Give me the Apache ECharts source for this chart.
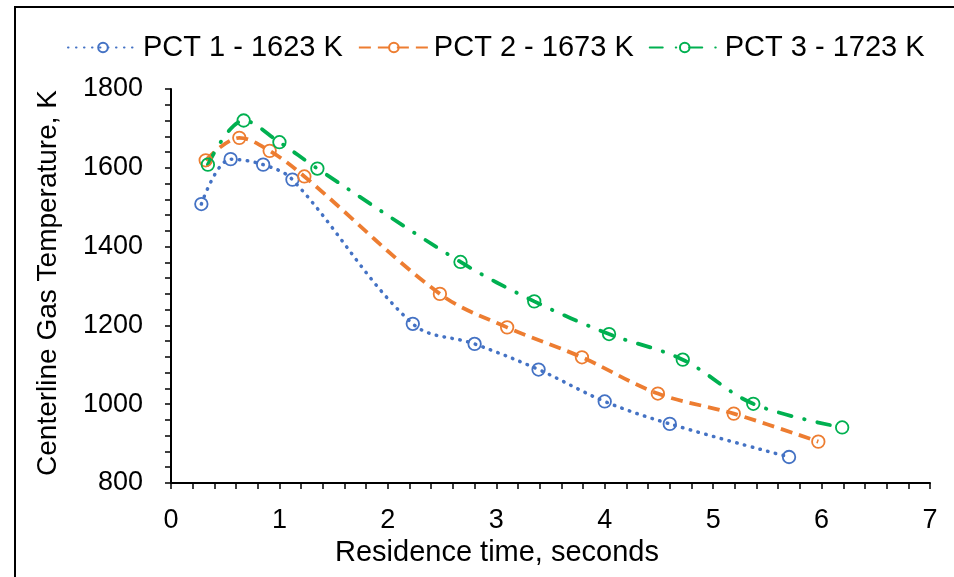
<!DOCTYPE html>
<html>
<head>
<meta charset="utf-8">
<script src="https://cdn.jsdelivr.net/npm/echarts@6/dist/echarts.min.js"></script>
<style>
html,body{margin:0;padding:0;background:#fff;}
#chart{width:954px;height:577px;}
</style>
</head>
<body>
<div id="chart"></div>
<script>
// Data
var seriesNames = ['PCT 1 - 1623 K', 'PCT 2 - 1673 K', 'PCT 3 - 1723 K'];
var pct1 = [[0.28,1508],[0.55,1622],[0.85,1608],[1.12,1570],[2.23,1204],[2.80,1153],[3.39,1088],[4.00,1007],[4.60,950],[5.70,866]];
var pct2 = [[0.32,1619],[0.63,1676],[0.91,1643],[1.23,1578],[2.48,1280],[3.10,1195],[3.79,1119],[4.49,1027],[5.19,976],[5.97,905]];
var pct3 = [[0.34,1608],[0.67,1720],[1.00,1665],[1.35,1598],[2.67,1361],[3.35,1261],[4.04,1178],[4.72,1113],[5.37,1001],[6.19,941]];
var xTicks = [0,1,2,3,4,5,6,7];
var yTicks = [800,1000,1200,1400,1600,1800];
var xTitle = 'Residence time, seconds';
var yTitle = 'Centerline Gas Temperature, K';

var colors = ['#4472C4', '#ED7D31', '#00B050'];
var FONT = '"Liberation Sans", Arial, sans-serif';

function mkSeries(name, data, color, lineStyle) {
  return {
    name: name,
    type: 'line',
    data: data,
    smooth: 0.35,
    symbol: 'circle',
    symbolSize: 12.5,
    showSymbol: true,
    z: 3,
    lineStyle: Object.assign({color: color}, lineStyle),
    itemStyle: {color: 'rgba(255,255,255,0)', borderColor: color, borderWidth: 1.8},
    emphasis: {disabled: true},
    animation: false
  };
}

var chart = echarts.init(document.getElementById('chart'), null, {renderer: 'canvas'});
var axisLineStyle = {color: '#000', width: 2};
chart.setOption({
  animation: false,
  backgroundColor: '#fff',
  grid: {left: 171, right: 24, top: 89, bottom: 94, containLabel: false},
  legend: {
    left: 62, top: 28,
    itemWidth: 70, itemHeight: 12, itemGap: 15,
    textStyle: {fontFamily: FONT, fontSize: 29, color: '#000'},
    data: seriesNames
  },
  xAxis: {
    type: 'value', min: xTicks[0], max: xTicks[xTicks.length-1], interval: 1,
    axisLine: {show: true, lineStyle: axisLineStyle},
    axisTick: {show: true, length: 6, lineStyle: {color: '#000', width: 1.5}},
    minorTick: {show: true, splitNumber: 5, length: 6, lineStyle: {color: '#000', width: 1.5}},
    splitLine: {show: false},
    axisLabel: {fontFamily: FONT, fontSize: 27, color: '#000', margin: 24}
  },
  yAxis: {
    type: 'value', min: yTicks[0], max: yTicks[yTicks.length-1], interval: 200,
    axisLine: {show: true, lineStyle: axisLineStyle},
    axisTick: {show: true, length: 6, lineStyle: {color: '#000', width: 1.5}},
    minorTick: {show: true, splitNumber: 5, length: 6, lineStyle: {color: '#000', width: 1.5}},
    splitLine: {show: false},
    axisLabel: {fontFamily: FONT, fontSize: 27, color: '#000', margin: 28,
      formatter: function (v) { return String(v); }}
  },
  graphic: [
    {type: 'rect', shape: {x: 15, y: 7, width: 1200, height: 1200}, style: {fill: 'none', stroke: '#000', lineWidth: 2}, z: 0, silent: true},
    {type: 'text', x: 497, y: 553, style: {text: xTitle, font: '29px ' + FONT, fill: '#000', textAlign: 'center', textVerticalAlign: 'middle'}},
    {type: 'text', x: 48, y: 283, rotation: Math.PI/2, style: {text: yTitle, font: '28px ' + FONT, fill: '#000', textAlign: 'center', textVerticalAlign: 'middle'}}
  ],
  series: [
    mkSeries(seriesNames[0], pct1, colors[0], {width: 3.5, type: [0.5, 7.5], cap: 'round'}),
    mkSeries(seriesNames[1], pct2, colors[1], {width: 3.8, type: [12, 7], cap: 'butt'}),
    mkSeries(seriesNames[2], pct3, colors[2], {width: 3.8, type: [13, 13, 0.5, 13], cap: 'round'})
  ]
});
</script>
</body>
</html>
